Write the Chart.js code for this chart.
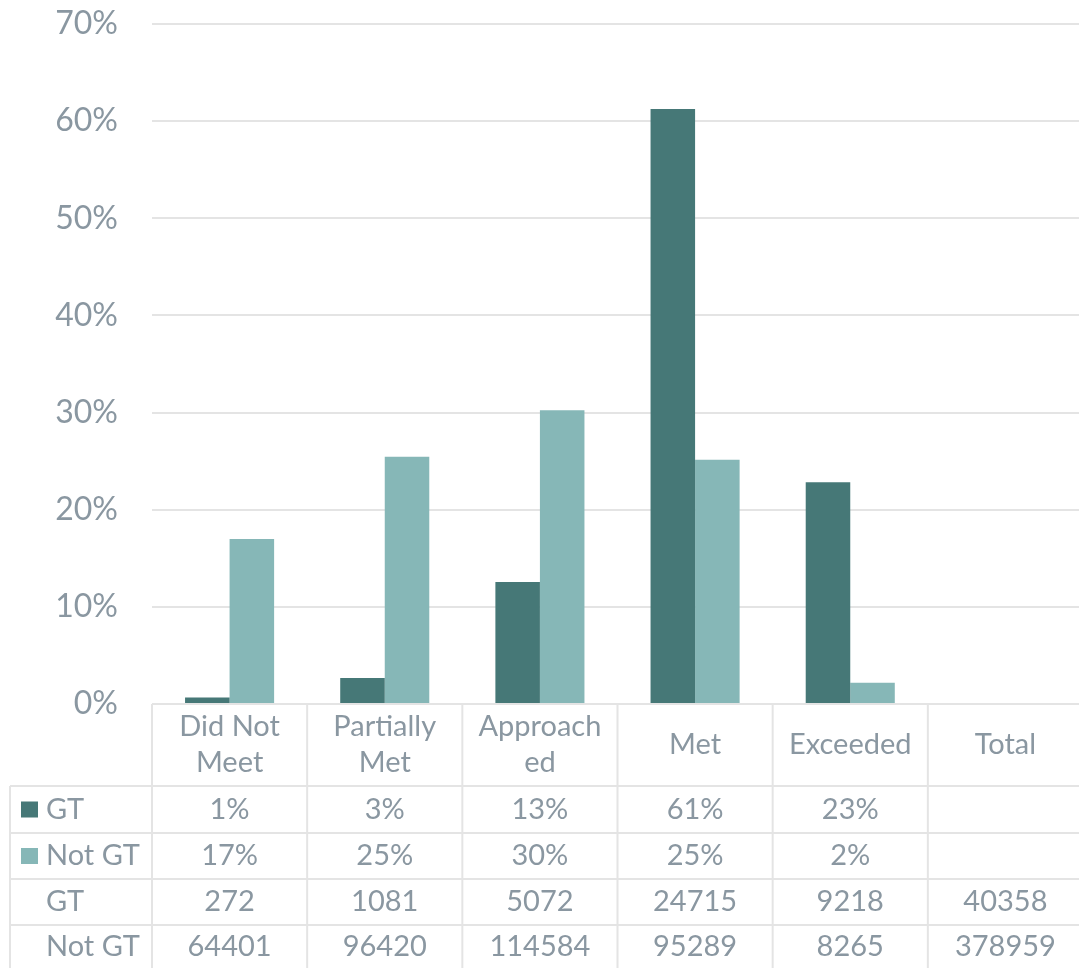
<!DOCTYPE html>
<html>
<head>
<meta charset="utf-8">
<script src="https://cdn.jsdelivr.net/npm/chart.js@4"></script>
<style>
  html, body { margin: 0; padding: 0; background: #fff; overflow: hidden; }
</style>
</head>
<body>
<canvas id="chart" width="1083" height="968"></canvas>
<script>
// categories (header lines as they wrap in the data table)
const categories = [['Did Not', 'Meet'], ['Partially', 'Met'], ['Approach', 'ed'], ['Met'], ['Exceeded'], ['Total']];
const seriesNames = ['GT', 'Not GT'];

// share of each group, in percent
const gtShare = [0.67, 2.68, 12.57, 61.24, 22.84, null];
const notGtShare = [16.99, 25.44, 30.24, 25.14, 2.18, null];

// head counts shown in the table
const gtCount = [272, 1081, 5072, 24715, 9218, 40358];
const notGtCount = [64401, 96420, 114584, 95289, 8265, 378959];

const TEXT = '#8a97a1';
const GRID = '#e4e4e4';
const GT_COLOR = '#467877';
const NOT_GT_COLOR = '#86b7b7';
const FONT = 'Lato';

const pct = v => (v === null ? '' : Math.round(v) + '%');

// draws the Excel style data table under the plot
const dataTable = {
  id: 'dataTable',
  afterDraw(chart) {
    const { ctx, chartArea } = chart;
    const n = categories.length;
    const colW = chartArea.width / n;
    const top = chartArea.bottom;
    const rows = [top, top + 82, top + 129, top + 175, top + 221, chart.height];
    const tableLeft = 10;
    const right = chartArea.right;

    ctx.save();
    ctx.strokeStyle = GRID;
    ctx.lineWidth = 2;
    ctx.beginPath();
    for (let r = 1; r < 5; r++) {
      ctx.moveTo(tableLeft, rows[r]);
      ctx.lineTo(right, rows[r]);
    }
    ctx.moveTo(tableLeft, rows[1]);
    ctx.lineTo(tableLeft, rows[5]);
    for (let i = 0; i <= n; i++) {
      const xx = chartArea.left + i * colW;
      ctx.moveTo(xx, top);
      ctx.lineTo(xx, rows[5]);
    }
    ctx.stroke();

    ctx.fillStyle = TEXT;
    ctx.font = '29px ' + FONT;
    ctx.textAlign = 'center';
    ctx.textBaseline = 'middle';

    // header
    const headMid = (rows[0] + rows[1]) / 2;
    categories.forEach((lines, i) => {
      const cx = chartArea.left + (i + 0.5) * colW;
      const start = headMid - (lines.length - 1) * 18;
      lines.forEach((t, j) => ctx.fillText(t, cx, start + j * 36));
    });

    const body = [
      gtShare.map(pct),
      notGtShare.map(pct),
      gtCount.map(String),
      notGtCount.map(String)
    ];
    const labels = [seriesNames[0], seriesNames[1], seriesNames[0], seriesNames[1]];
    const swatch = [GT_COLOR, NOT_GT_COLOR, null, null];

    body.forEach((cells, r) => {
      const mid = (rows[r + 1] + rows[r + 2]) / 2;
      cells.forEach((t, i) => {
        ctx.fillText(t, chartArea.left + (i + 0.5) * colW, mid);
      });
      ctx.textAlign = 'left';
      ctx.fillText(labels[r], 46, mid);
      ctx.textAlign = 'center';
      if (swatch[r]) {
        ctx.fillStyle = swatch[r];
        ctx.fillRect(21, mid - 8, 17, 16);
        ctx.fillStyle = TEXT;
      }
    });
    ctx.restore();
  }
};

new Chart(document.getElementById('chart'), {
  type: 'bar',
  data: {
    labels: categories.map(c => c.join(' ')),
    datasets: [
      { label: seriesNames[0], data: gtShare, backgroundColor: GT_COLOR },
      { label: seriesNames[1], data: notGtShare, backgroundColor: NOT_GT_COLOR }
    ]
  },
  options: {
    responsive: false,
    animation: false,
    layout: { padding: { top: 24, bottom: 264, left: 0, right: 0 } },
    datasets: { bar: { categoryPercentage: 0.574, barPercentage: 1 } },
    plugins: { legend: { display: false }, tooltip: { enabled: false } },
    scales: {
      x: { display: false },
      y: {
        min: 0,
        max: 70,
        afterFit: scale => {
          scale.width = 152;
          scale.paddingTop = 0;
          scale.paddingBottom = 0;
        },
        ticks: {
          stepSize: 10,
          padding: 34,
          color: TEXT,
          font: { family: FONT, size: 32 },
          callback: v => v + '%'
        },
        grid: { color: GRID, lineWidth: 2, drawTicks: false },
        border: { display: false }
      }
    }
  },
  plugins: [dataTable]
});
</script>
</body>
</html>
